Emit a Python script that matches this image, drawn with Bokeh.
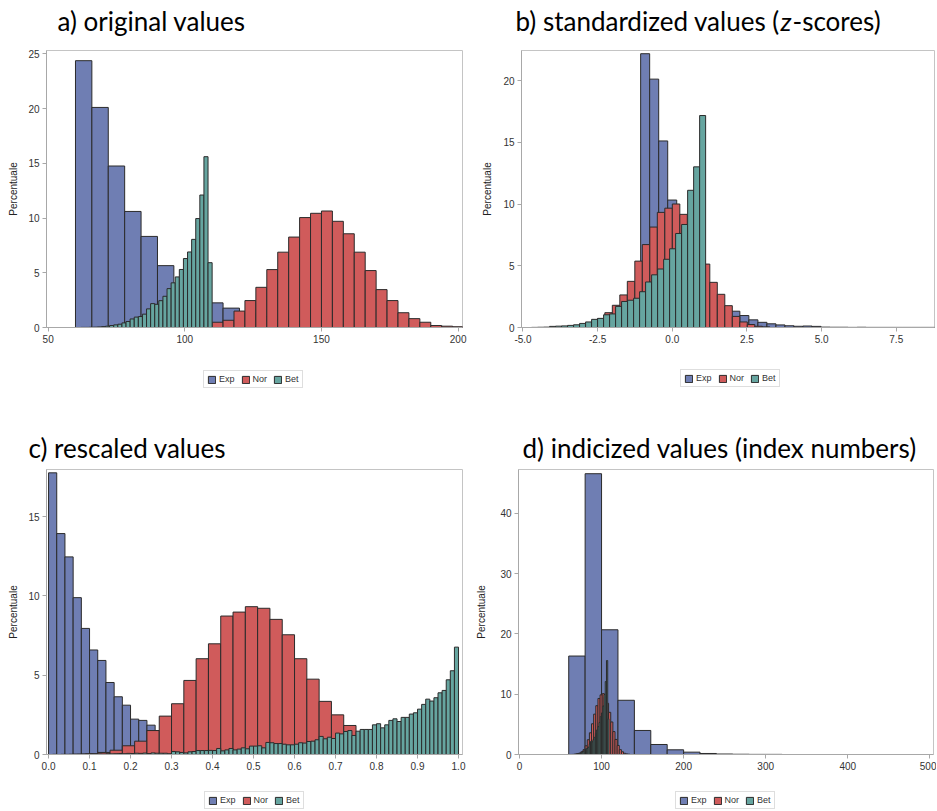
import numpy as np
from bokeh.plotting import figure
from bokeh.models import (Range1d, FixedTicker, NumeralTickFormatter, Legend,
                          LegendItem, ColumnDataSource)
from bokeh.layouts import column, row
from bokeh.embed import file_html
from bokeh.resources import INLINE
from bokeh.core.properties import value

series = ["Exp", "Nor", "Bet"]
colors = ["#6F7EB3", "#D05B5B", "#66A5A0"]

# ---------------- a) original values ----------------
a_exp_start, a_exp_width = 60, 6
a_exp_pct = [24.37, 20.1, 14.75, 10.6, 8.32, 5.65, 4.0, 3.0, 2.25, 1.77, 1.3, 1.0,
             0.75, 0.55, 0.4, 0.3, 0.22, 0.16, 0.12, 0.09, 0.07, 0.05, 0.04, 0.03]
a_nor_start, a_nor_width = 110, 4
a_nor_pct = [0.48, 0.66, 1.5, 2.46, 3.67, 5.29, 6.88, 8.26, 10.04, 10.43, 10.64, 9.7,
             8.56, 6.88, 5.2, 3.46, 2.46, 1.35, 0.81, 0.48, 0.18, 0.12, 0.06]
a_bet_start, a_bet_width = 62, 1.5
a_bet_pct = [0.01, 0.01, 0.02, 0.03, 0.05, 0.08, 0.12, 0.18, 0.24, 0.3, 0.42, 0.55,
             0.78, 0.95, 1.0, 1.22, 1.7, 2.18, 2.12, 2.45, 2.85, 3.55, 4.08, 4.62,
             5.3, 6.3, 6.9, 8.05, 9.95, 12.1, 15.6, 5.92]
a_xticks = [50, 100, 150, 200]
a_yticks = [0, 5, 10, 15, 20, 25]

# ---------------- b) standardized values ----------------
b_exp_start, b_exp_width = -1.06, 0.302
b_exp_pct = [22.19, 20.13, 15.12, 10.33, 7.6, 5.6, 4.1, 3.0, 2.2, 1.7, 1.32, 0.97,
             0.62, 0.42, 0.30, 0.21, 0.14, 0.10, 0.12, 0.09, 0.03, 0.02, 0.02, 0.01,
             0.02, 0.01, 0.01, 0.01, 0.01, 0.01, 0.01, 0.01, 0.01, 0.01]
b_nor_start, b_nor_width = -3.264, 0.2511
b_nor_pct = [0.1, 0.2, 0.4, 0.7, 1.2, 1.8, 2.64, 3.74, 5.38, 6.72, 8.14, 9.33, 9.67,
             10.01, 9.17, 8.0, 6.7, 5.14, 3.66, 2.69, 1.77, 0.9, 0.45, 0.24, 0.1, 0.05]
b_bet_start, b_bet_width = -4.713, 0.201
b_bet_pct = [0.01, 0.02, 0.03, 0.09, 0.11, 0.13, 0.17, 0.22, 0.33, 0.45, 0.66, 0.74,
             1.03, 1.1, 1.71, 2.11, 2.21, 2.37, 2.9, 3.69, 4.27, 4.74, 5.53, 6.38,
             7.62, 8.35, 11.12, 13.02, 17.18]
b_xticks = [-5.0, -2.5, 0.0, 2.5, 5.0, 7.5]
b_yticks = [0, 5, 10, 15, 20]

# ---------------- c) rescaled values ----------------
c_exp_start, c_exp_width = 0.0, 0.02
c_exp_pct = [17.76, 13.93, 12.46, 9.89, 7.95, 6.59, 5.93, 4.54, 3.64, 3.11, 2.23, 2.15,
             1.85, 1.5, 1.2, 1.0, 0.8, 0.65, 0.5, 0.4, 0.32, 0.26, 0.2, 0.16, 0.12,
             0.1, 0.08, 0.06, 0.05, 0.04, 0.03, 0.03, 0.02, 0.02, 0.01, 0.01, 0.01,
             0.01, 0.01, 0.01]
c_nor_start, c_nor_width = 0.06, 0.03
c_nor_pct = [0.02, 0.05, 0.13, 0.27, 0.55, 0.84, 1.51, 2.42, 3.2, 4.67, 6.04, 6.98,
             8.73, 8.98, 9.32, 9.22, 8.52, 7.55, 6.04, 4.75, 3.35, 2.5, 1.83, 1.2,
             0.7, 0.4, 0.2, 0.1, 0.05]
c_bet_start, c_bet_width = 0.0, 0.01
c_bet_pct = [0.0, 0.01, 0.0, 0.01, 0.01, 0.02, 0.01, 0.02, 0.03, 0.02, 0.03, 0.02,
             0.04, 0.03, 0.05, 0.04, 0.05, 0.06, 0.05, 0.07, 0.06, 0.08, 0.07, 0.09,
             0.06, 0.1, 0.08,
             0.08, 0.08, 0.05, 0.19, 0.17, 0.13, 0.10, 0.17, 0.19, 0.25, 0.25, 0.25,
             0.26, 0.25, 0.38, 0.23, 0.29, 0.38, 0.29, 0.34, 0.42, 0.36, 0.53, 0.53,
             0.55, 0.42, 0.76, 0.74, 0.69, 0.69, 0.65, 0.61, 0.61, 0.65, 0.74,
             0.72, 0.82, 0.84, 0.93, 1.14, 0.99, 1.09, 1.01, 1.35, 1.3, 1.45, 1.51,
             1.2, 1.47, 1.58, 1.58, 1.58, 1.87, 1.94, 1.68, 1.87, 2.15, 2.25, 2.08,
             2.34, 2.34, 2.55, 2.63, 2.86, 3.16, 3.49, 3.37, 3.58, 3.89, 4.04, 4.71,
             5.28, 6.77]
c_xticks = [0.0, 0.1, 0.2, 0.3, 0.4, 0.5, 0.6, 0.7, 0.8, 0.9, 1.0]
c_yticks = [0, 5, 10, 15]

# ---------------- d) indicized values ----------------
d_exp_start, d_exp_width = 60, 20
d_exp_pct = [16.34, 46.6, 20.7, 9.0, 3.99, 1.66, 0.78, 0.39, 0.17, 0.08, 0.04, 0.02, 0.02]
d_nor_start, d_nor_width = 67, 2.6
d_nor_pct = [0.05, 0.12, 0.2, 0.45, 0.8, 1.45, 2.45, 3.6, 5.1, 6.7, 8.1, 9.3, 9.9,
             10.1, 9.5, 8.5, 7.0, 5.4, 3.8, 2.5, 1.5, 0.8, 0.45, 0.2, 0.1, 0.05]
d_bet_start, d_bet_width = 61, 1.5
d_bet_pct = [0.01, 0.01, 0.02, 0.03, 0.05, 0.08, 0.12, 0.18, 0.24, 0.3, 0.42, 0.55,
             0.78, 0.95, 1.0, 1.22, 1.7, 2.18, 2.12, 2.45, 2.85, 3.55, 4.08, 4.62,
             5.3, 6.3, 6.9, 8.05, 9.95, 12.1, 15.6, 5.92]
d_xticks = [0, 100, 200, 300, 400, 500]
d_yticks = [0, 10, 20, 30, 40]

TITLE_FONT = "Lato"
AXIS_FONT = "Liberation Sans"
PAGE_W = 936
LINE = "#2b2b2b"


def bins(start, width, pct):
    pct = np.asarray(pct, dtype=float)
    left = start + width * np.arange(len(pct))
    return ColumnDataSource(dict(left=left, right=left + width, top=pct,
                                 bottom=np.zeros(len(pct))))


def panel(w, h, borders, xr, yr, xticks, yticks, xfmt, hists, ylab_standoff):
    bl, br, bt, bb = borders
    p = figure(width=w, height=h, output_backend="svg", toolbar_location=None,
               x_range=Range1d(*xr), y_range=Range1d(*yr),
               min_border_left=bl, min_border_right=br,
               min_border_top=bt, min_border_bottom=bb)
    p.grid.visible = False
    p.outline_line_color = "#c4c4c4"
    for (start, width, pct), col in zip(hists, colors):
        p.quad(left="left", right="right", top="top", bottom="bottom",
               source=bins(start, width, pct), fill_color=col,
               line_color=LINE, line_width=1)
    for ax in (p.xaxis[0], p.yaxis[0]):
        ax.axis_line_color = "#a8a8a8"
        ax.major_tick_line_color = "#a8a8a8"
        ax.minor_tick_line_color = None
        ax.major_tick_out = 4
        ax.major_tick_in = 0
        ax.major_label_text_font = AXIS_FONT
        ax.major_label_text_font_size = "10px"
        ax.major_label_text_color = "#333333"
        ax.major_label_standoff = 3
    p.xaxis[0].ticker = FixedTicker(ticks=xticks)
    p.yaxis[0].ticker = FixedTicker(ticks=yticks)
    p.xaxis[0].formatter = NumeralTickFormatter(format=xfmt)
    p.yaxis[0].formatter = NumeralTickFormatter(format="0")
    p.yaxis[0].axis_label = "Percentuale"
    p.yaxis[0].axis_label_text_font = AXIS_FONT
    p.yaxis[0].axis_label_text_font_size = "10px"
    p.yaxis[0].axis_label_text_font_style = "normal"
    p.yaxis[0].axis_label_text_color = "#222222"
    p.yaxis[0].axis_label_standoff = ylab_standoff
    return p


def strip(h):
    s = figure(width=PAGE_W, height=h, output_backend="svg", toolbar_location=None,
               x_range=Range1d(0, PAGE_W), y_range=Range1d(h, 0),
               x_axis_location=None, y_axis_location=None,
               min_border_left=0, min_border_right=0, min_border_top=0, min_border_bottom=0)
    s.grid.visible = False
    s.outline_line_color = None
    return s


def add_title(s, parts, y):
    for text, x, style in parts:
        s.text(x=[x], y=[y], text=[text], text_font=value(TITLE_FONT),
               text_font_size=value("26px"), text_font_style=value(style),
               text_baseline="middle", text_align="left", text_color="#000000")


def add_legend(s, loc):
    # legend swatches: one (undrawn) entry per series, styled like the bars
    rends = []
    for c in colors:
        src = ColumnDataSource(dict(left=[np.nan], right=[np.nan], top=[np.nan], bottom=[np.nan]))
        rends.append(s.quad(left="left", right="right", top="top", bottom="bottom",
                            source=src, fill_color=c, line_color=LINE, line_width=1))
    leg = Legend(items=[LegendItem(label=n, renderers=[r]) for n, r in zip(series, rends)],
                 orientation="horizontal", location=loc,
                 glyph_width=9, glyph_height=9, label_height=9, label_width=0,
                 label_text_font=AXIS_FONT, label_text_font_size="9px",
                 label_text_color="#333333", label_standoff=3, spacing=6,
                 padding=3, margin=0, border_line_color="#bdbdbd",
                 background_fill_color="white")
    s.add_layout(leg, "center")


# title strip for the first row
t1 = strip(40)
add_title(t1, [("a) original values", 57, "normal")], 20)
add_title(t1, [("b) standardized values (", 515, "normal"), ("z", 780, "italic"),
               ("-scores)", 792, "normal")], 20)

pa = panel(470, 312, (46, 8, 10, 21), (49.4, 201.6), (0, 25.3), a_xticks, a_yticks, "0",
           [(a_exp_start, a_exp_width, a_exp_pct), (a_nor_start, a_nor_width, a_nor_pct),
            (a_bet_start, a_bet_width, a_bet_pct)], 6)
pb = panel(466, 312, (51, 2, 3, 25), (-5.05, 8.78), (0, 22.45), b_xticks, b_yticks, "0.0",
           [(b_exp_start, b_exp_width, b_exp_pct), (b_nor_start, b_nor_width, b_nor_pct),
            (b_bet_start, b_bet_width, b_bet_pct)], 7)

# strip with legends of the first row and titles of the second row
m = strip(114)
add_legend(m, (203, 78))
add_legend(m, (680, 79))
add_title(m, [("c) rescaled values", 28, "normal")], 95)
add_title(m, [("d) indicized values (index numbers)", 522, "normal")], 95)

pc = panel(470, 309, (46, 8, 3, 21), (-0.005, 1.0097), (0, 17.97), c_xticks, c_yticks, "0.0",
           [(c_exp_start, c_exp_width, c_exp_pct), (c_nor_start, c_nor_width, c_nor_pct),
            (c_bet_start, c_bet_width, c_bet_pct)], 6)
pd_ = panel(466, 309, (48, 3, 3, 21), (-1.2, 504.5), (0, 47.3), d_xticks, d_yticks, "0",
            [(d_exp_start, d_exp_width, d_exp_pct), (d_nor_start, d_nor_width, d_nor_pct),
             (d_bet_start, d_bet_width, d_bet_pct)], 10)

b2 = strip(35)
add_legend(b2, (204, 1))
add_legend(b2, (675, 1))

layout = column(t1, row(pa, pb), m, row(pc, pd_), b2)
open("out.html", "w").write(file_html(layout, INLINE))
